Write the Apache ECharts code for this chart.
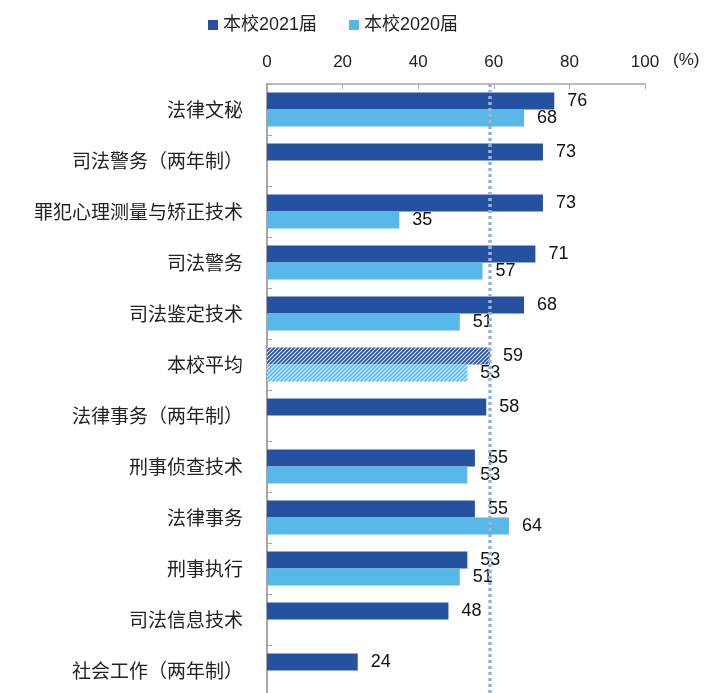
<!DOCTYPE html>
<html>
<head>
<meta charset="utf-8">
<script src="https://cdn.jsdelivr.net/npm/echarts@6/dist/echarts.min.js"></script>
<style>
html,body{margin:0;padding:0;background:#fff;}
#chart{width:705px;height:693px;}
</style>
</head>
<body>
<div id="chart"></div>
<script>
const categories = ['法律文秘','司法警务（两年制）','罪犯心理测量与矫正技术','司法警务','司法鉴定技术','本校平均','法律事务（两年制）','刑事侦查技术','法律事务','刑事执行','司法信息技术','社会工作（两年制）'];
const series2021 = [76,73,73,71,68,59,58,55,55,53,48,24];
const series2020 = [68,null,35,57,51,53,null,53,64,51,null,null];
const seriesNames = ['本校2021届','本校2020届'];
const averageLine = 59;
const xTicks = {min:0, max:100, interval:20};
const unitLabel = '(%)';

const DARK = '#2452a1';
const LIGHT = '#57b8e8';
const LATIN = '"Liberation Sans", Arial, "Noto Sans CJK SC", sans-serif';
const CJK = '"Noto Sans CJK SC", sans-serif';

function hatch(color){
  const c = document.createElement('canvas');
  const s = 4;
  c.width = s; c.height = s;
  const g = c.getContext('2d');
  g.fillStyle = color; g.fillRect(0,0,s,s);
  g.strokeStyle = 'rgba(255,255,255,0.9)';
  g.lineWidth = 1.1;
  g.beginPath();
  g.moveTo(-1,s+1); g.lineTo(s+1,-1);
  g.moveTo(-1,1); g.lineTo(1,-1);
  g.moveTo(s-1,s+1); g.lineTo(s+1,s-1);
  g.stroke();
  return {image:c, repeat:'repeat'};
}

function build(vals, color){
  const pat = hatch(color);
  return vals.map((v,i)=> (categories[i]==='本校平均' && v!=null) ? {value:v, itemStyle:{color:pat}} : v);
}

const chart = echarts.init(document.getElementById('chart'));
const labelStyle = {show:true, position:'right', distance:13, fontSize:18, color:'#111', fontFamily:LATIN};
chart.setOption({
  animation:false,
  backgroundColor:'#fff',
  textStyle:{fontFamily:LATIN},
  legend:{
    left:203, top:11, itemWidth:10, itemHeight:10, itemGap:32, icon:'rect',
    textStyle:{fontSize:18, color:'#222', fontFamily:LATIN},
    data:seriesNames
  },
  graphic:[{
    type:'text', left:673, top:52,
    style:{text:unitLabel, fontSize:17, fill:'#222', fontFamily:LATIN}
  }],
  grid:{left:267, top:84, width:378, height:612, outerBoundsMode:'none', containLabel:false},
  xAxis:{
    type:'value', position:'top', min:xTicks.min, max:xTicks.max, interval:xTicks.interval,
    axisLine:{show:true, lineStyle:{color:'#a6a6a6', width:1.5}},
    axisTick:{show:true, inside:true, length:5, lineStyle:{color:'#a6a6a6'}},
    axisLabel:{fontSize:17, color:'#222', margin:13, fontFamily:LATIN},
    splitLine:{show:false}
  },
  yAxis:{
    type:'category', inverse:true, data:categories,
    axisLine:{show:true, lineStyle:{color:'#a6a6a6', width:2}},
    axisTick:{show:true, inside:true, length:5, lineStyle:{color:'#a6a6a6'}},
    axisLabel:{fontSize:19, color:'#222', margin:24, fontFamily:CJK}
  },
  series:[
    {
      name:seriesNames[0], type:'bar', barWidth:17, barGap:'0%',
      itemStyle:{color:DARK},
      label:labelStyle,
      data:build(series2021, DARK),
      markLine:{
        silent:true, symbol:'none', z:10,
        label:{show:false},
        lineStyle:{type:[3,3], color:'#96b2dc', width:3.5},
        data:[{xAxis:averageLine}]
      }
    },
    {
      name:seriesNames[1], type:'bar', barWidth:17, barGap:'0%',
      itemStyle:{color:LIGHT},
      label:labelStyle,
      data:build(series2020, LIGHT)
    }
  ]
});
</script>
</body>
</html>
